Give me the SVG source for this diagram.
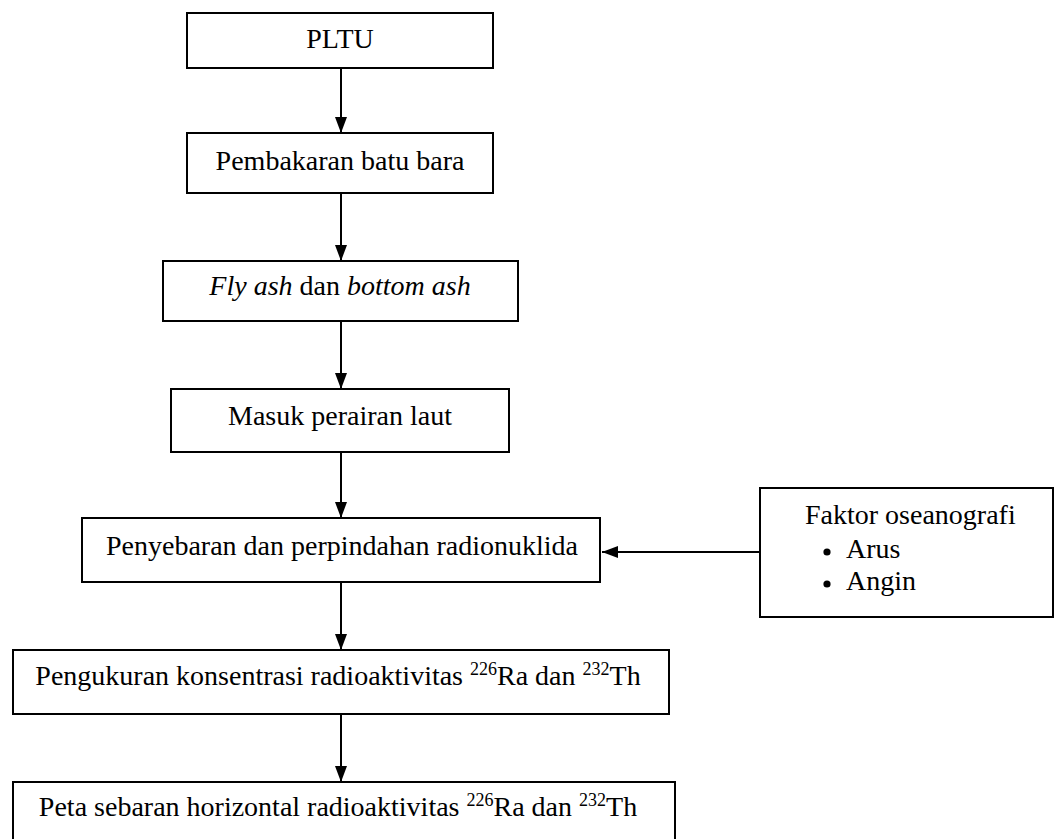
<svg xmlns="http://www.w3.org/2000/svg" width="1055" height="839" viewBox="0 0 1055 839">
  <defs>
    <style>
      .box { fill: #ffffff; stroke: #000000; stroke-width: 2; }
      .lbl { font-family: "Liberation Serif", "Times New Roman", serif; font-size: 28px; fill: #000000; }
      .mid { text-anchor: middle; }
      .it { font-style: italic; }
      .sup { font-size: 18px; }
      .edge { fill: none; stroke: #000000; stroke-width: 2; }
    </style>
    <marker id="arrow" markerUnits="userSpaceOnUse" markerWidth="16" markerHeight="12" refX="16" refY="6" orient="auto">
      <path d="M0,0 L16,6 L0,12 Z" fill="#000000"/>
    </marker>
  </defs>
  <rect width="1055" height="839" fill="#ffffff"/>

  <g id="connectors">
    <line class="edge" x1="341" y1="68" x2="341" y2="133" marker-end="url(#arrow)"/>
    <line class="edge" x1="341" y1="193" x2="341" y2="261" marker-end="url(#arrow)"/>
    <line class="edge" x1="341" y1="321" x2="341" y2="389" marker-end="url(#arrow)"/>
    <line class="edge" x1="341" y1="452" x2="341" y2="518" marker-end="url(#arrow)"/>
    <line class="edge" x1="341" y1="582" x2="341" y2="650" marker-end="url(#arrow)"/>
    <line class="edge" x1="341" y1="714" x2="341" y2="782" marker-end="url(#arrow)"/>
    <line class="edge" x1="760" y1="552" x2="602" y2="552" marker-end="url(#arrow)"/>
  </g>

  <g id="pltu">
    <rect class="box" x="187" y="13" width="306" height="55"/>
    <text class="lbl mid" x="340" y="48">PLTU</text>
  </g>

  <g id="pembakaran">
    <rect class="box" x="187" y="133" width="306" height="60"/>
    <text class="lbl mid" x="340" y="170">Pembakaran batu bara</text>
  </g>

  <g id="abu">
    <rect class="box" x="163" y="261" width="355" height="60"/>
    <text class="lbl mid" x="340" y="295"><tspan class="it">Fly ash</tspan> dan <tspan class="it">bottom ash</tspan></text>
  </g>

  <g id="masuk">
    <rect class="box" x="171" y="389" width="338" height="63"/>
    <text class="lbl mid" x="340" y="425">Masuk perairan laut</text>
  </g>

  <g id="penyebaran">
    <rect class="box" x="82" y="518" width="518" height="64"/>
    <text class="lbl mid" x="342" y="555">Penyebaran dan perpindahan radionuklida</text>
  </g>

  <g id="faktor">
    <rect class="box" x="760" y="488" width="293" height="129"/>
    <text class="lbl" x="805" y="524">Faktor oseanografi</text>
    <circle cx="827" cy="552" r="3.6" fill="#000000"/>
    <text class="lbl" x="846" y="558">Arus</text>
    <circle cx="827" cy="584" r="3.6" fill="#000000"/>
    <text class="lbl" x="846" y="590">Angin</text>
  </g>

  <g id="pengukuran">
    <rect class="box" x="13" y="650" width="656" height="64"/>
    <text class="lbl mid" x="338" y="685">Pengukuran konsentrasi radioaktivitas <tspan class="sup" dy="-10">226</tspan><tspan dy="10">Ra dan </tspan><tspan class="sup" dy="-10">232</tspan><tspan dy="10">Th</tspan></text>
  </g>

  <g id="peta">
    <rect class="box" x="13" y="782" width="662" height="60"/>
    <text class="lbl mid" x="338" y="816">Peta sebaran horizontal radioaktivitas <tspan class="sup" dy="-10">226</tspan><tspan dy="10">Ra dan </tspan><tspan class="sup" dy="-10">232</tspan><tspan dy="10">Th</tspan></text>
  </g>
</svg>
